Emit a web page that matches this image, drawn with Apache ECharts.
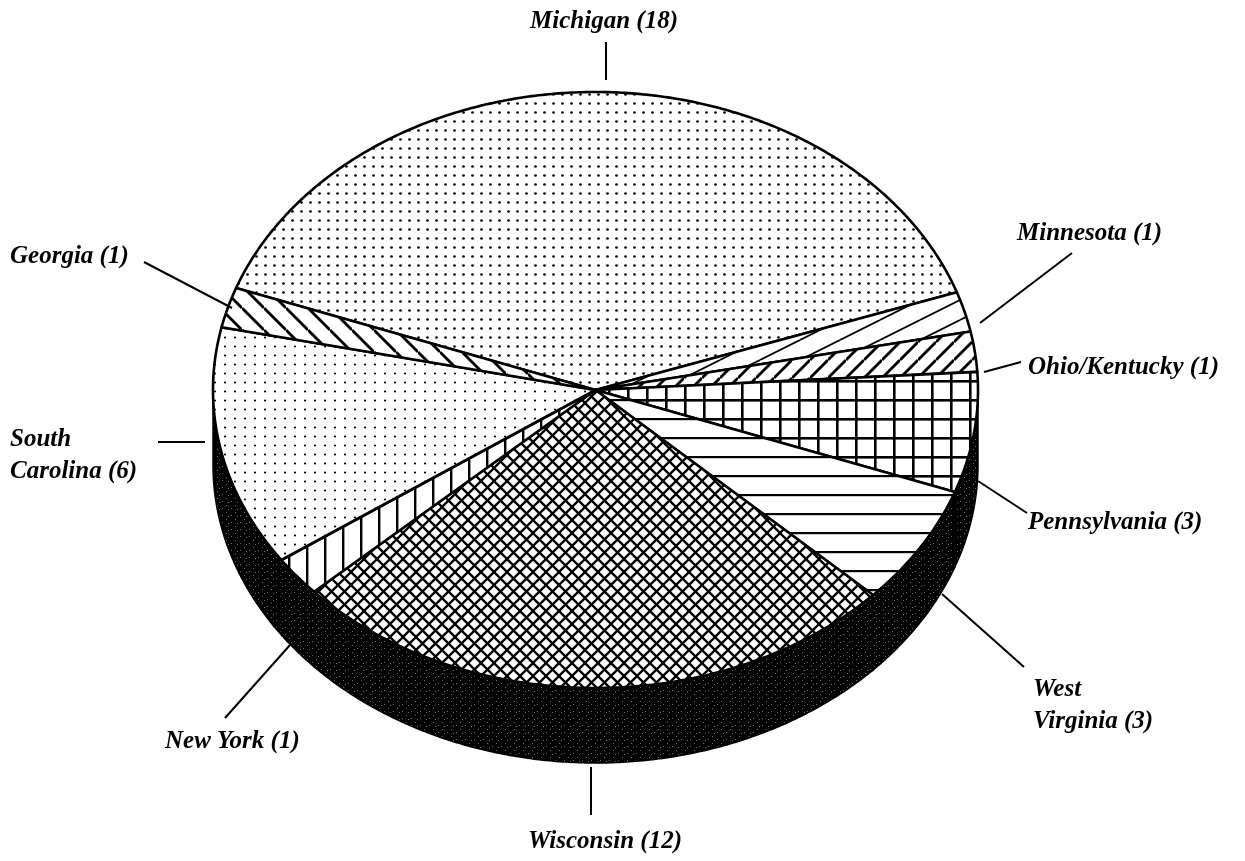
<!DOCTYPE html>
<html>
<head>
<meta charset="utf-8">
<script src="https://cdn.jsdelivr.net/npm/echarts@6/dist/echarts.min.js"></script>
<style>
html,body{margin:0;padding:0;background:#fff;}
#chart{width:1245px;height:861px;}
</style>
</head>
<body>
<div id="chart"></div>
<script>
// ---- data ----
const categories = ['Michigan','Minnesota','Ohio/Kentucky','Pennsylvania','West Virginia','Wisconsin','New York','South Carolina','Georgia'];
const values = [18, 1, 1, 3, 3, 12, 1, 6, 1];

// ---- layout (label text anchor, alignment, wrap after first word, leader line) ----
const labelLayout = [
  {x: 604, y: 22,  align: 'center', wrap: false, line: [606, 42, 606, 80]},
  {x: 1017, y: 234, align: 'left',  wrap: false, line: [980, 323, 1072, 253]},
  {x: 1028, y: 368, align: 'left',  wrap: false, line: [984, 372, 1021, 362]},
  {x: 1028, y: 523, align: 'left',  wrap: false, line: [978, 481, 1027, 513]},
  {x: 1033, y: 706, align: 'left',  wrap: true,  line: [942, 594, 1024, 667]},
  {x: 605, y: 842, align: 'center', wrap: false, line: [591, 767, 591, 815]},
  {x: 165, y: 742, align: 'left',  wrap: false, line: [290, 645, 225, 718]},
  {x: 10,  y: 456, align: 'left',  wrap: true,  line: [158, 442, 205, 442]},
  {x: 10,  y: 257, align: 'left',  wrap: false, line: [144, 262, 232, 308]}
];
const GEO = {cx: 595.5, cy: 390, rx: 382.5, ry: 298, depth: 75, startAngle: 160};

// ---- hatch patterns ----
function tile(w, h, draw, bg) {
  const c = document.createElement('canvas');
  c.width = w; c.height = h;
  const g = c.getContext('2d');
  g.fillStyle = bg || '#fff'; g.fillRect(0, 0, w, h);
  g.fillStyle = '#000'; g.strokeStyle = '#000';
  draw(g, w, h);
  return {image: c, repeat: 'repeat'};
}
function diag(g, w, h, up, lw) {
  g.lineWidth = lw;
  for (let k = -1; k <= 1; k++) {
    g.beginPath();
    if (up) { g.moveTo(0, h + k * h); g.lineTo(w, k * h); }
    else { g.moveTo(0, k * h); g.lineTo(w, h + k * h); }
    g.stroke();
  }
}
function dot(g, x, y, r) { g.beginPath(); g.arc(x, y, r, 0, Math.PI * 2); g.fill(); }
const patterns = [
  tile(9, 9, g => dot(g, 4.5, 4.5, 1.35)),                             // Michigan: dense dots
  tile(40, 20, (g, w, h) => diag(g, w, h, true, 1.8)),                 // Minnesota: thin shallow /
  tile(18, 18, (g, w, h) => diag(g, w, h, true, 2.8)),                 // Ohio/Kentucky: /
  tile(19, 19, g => { g.fillRect(0, 0, 19, 2.6); g.fillRect(0, 0, 2.6, 19); }), // Pennsylvania: grid
  tile(4, 19, g => { g.fillRect(0, 0, 4, 2.2); }),                     // West Virginia: horizontal
  tile(13, 13, (g, w, h) => { diag(g, w, h, true, 2.3); diag(g, w, h, false, 2.3); }), // Wisconsin: crosshatch
  tile(18, 4, g => { g.fillRect(0, 0, 2.4, 4); }),                     // New York: vertical
  tile(10, 9, g => dot(g, 5, 4.5, 1.1)),                               // South Carolina: fine dots
  tile(22, 22, (g, w, h) => diag(g, w, h, false, 2.8))                 // Georgia: \
];
const wallPattern = tile(9, 7, g => {
  g.fillStyle = '#707070';
  [[1,1],[6,4],[3,5]].forEach(p => g.fillRect(p[0], p[1], 1, 1));
}, '#000');

// ---- geometry helpers ----
const total = values.reduce((a, b) => a + b, 0);
const cum = [];
values.reduce((acc, v, i) => { cum[i] = acc; return acc + v; }, 0);
function pt(deg, dy) {
  const r = deg * Math.PI / 180;
  return [GEO.cx + GEO.rx * Math.cos(r), GEO.cy - GEO.ry * Math.sin(r) + (dy || 0)];
}
function arc(a, b, dy) {
  const n = Math.max(2, Math.ceil(Math.abs(a - b) / 0.5));
  const out = [];
  for (let i = 0; i <= n; i++) out.push(pt(a + (b - a) * i / n, dy));
  return out;
}

function renderItem(params, api) {
  const i = params.dataIndex;
  const v = api.value(0);
  const a1 = GEO.startAngle - 360 * cum[i] / total;
  const a2 = a1 - 360 * v / total;
  const children = [];
  // side wall (front half only)
  const hi = Math.min(a1, 0), lo = Math.max(a2, -180);
  if (hi > lo) {
    const pts = arc(hi, lo, 0).concat(arc(lo, hi, GEO.depth));
    children.push({type: 'polygon', shape: {points: pts},
      style: {fill: wallPattern, stroke: '#000', lineWidth: 1.5}});
  }
  // top face
  const top = [[GEO.cx, GEO.cy]].concat(arc(a1, a2, 0));
  children.push({type: 'polygon', shape: {points: top},
    style: {fill: patterns[i], stroke: '#000', lineWidth: 2.6, lineJoin: 'round'}});
  // label + leader
  const L = labelLayout[i];
  let text = categories[i] + ' (' + v + ')';
  if (L.wrap) { const s = text.indexOf(' '); text = text.slice(0, s) + '\n' + text.slice(s + 1); }
  children.push({type: 'line', shape: {x1: L.line[0], y1: L.line[1], x2: L.line[2], y2: L.line[3]},
    style: {stroke: '#000', lineWidth: 2}});
  children.push({type: 'text', style: {
    text: text, x: L.x, y: L.y,
    font: 'italic bold 25px "Liberation Serif", "DejaVu Serif", serif',
    textAlign: L.align, align: L.align,
    textVerticalAlign: 'middle', verticalAlign: 'middle',
    lineHeight: 32, fill: '#000'}});
  return {type: 'group', children: children};
}

const chart = echarts.init(document.getElementById('chart'), null, {renderer: 'canvas'});
chart.setOption({
  backgroundColor: '#fff',
  animation: false,
  series: [{
    type: 'custom',
    coordinateSystem: 'none',
    renderItem: renderItem,
    data: values.map((v, i) => ({name: categories[i], value: [v]}))
  }]
});
</script>
</body>
</html>
